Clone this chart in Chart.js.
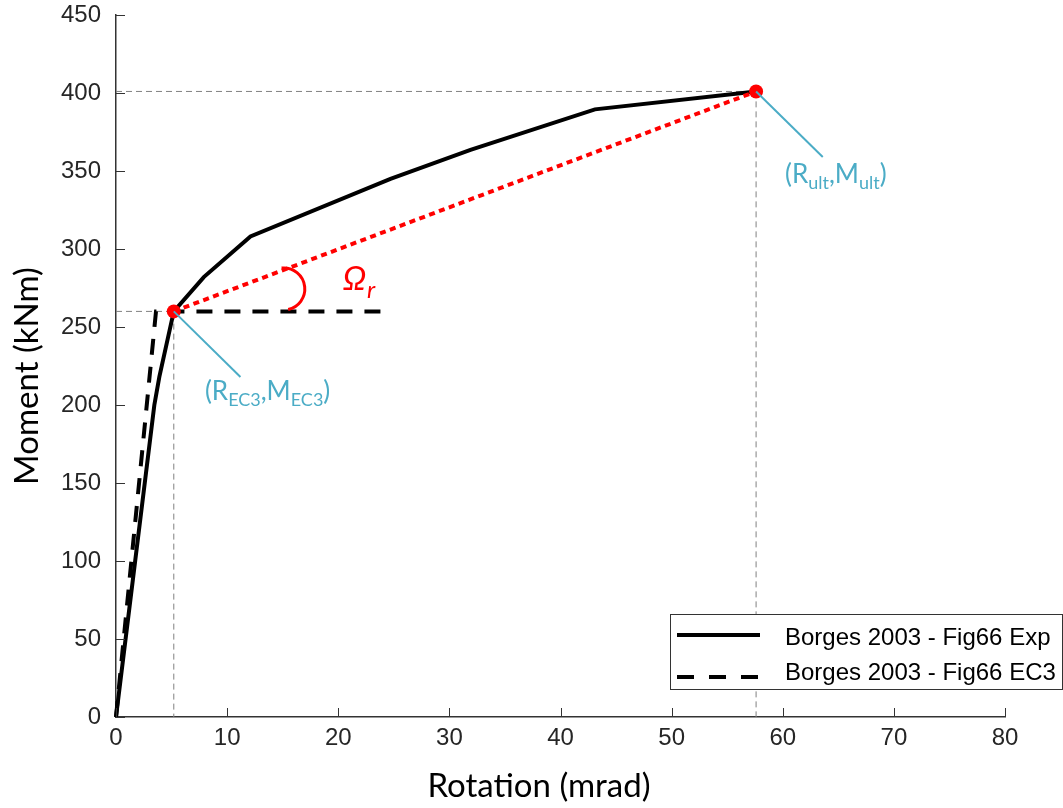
<!DOCTYPE html>
<html lang="en">
<head>
  <meta charset="UTF-8" />
  <title>Moment - Rotation</title>
  <script src="https://cdn.jsdelivr.net/npm/chart.js"></script>
  <style>
    body { margin: 0; background: #fff; }
    canvas { display: block; }
  </style>
</head>
<body>
  <canvas id="mrChart" width="1063" height="808"></canvas>

  <script>
    // Experimental curve (Borges 2003, Fig 66)
    const rotExp = [0, 3.45, 3.9, 5.2, 7.9, 12.1, 24.7, 31.9, 43.1, 57.6];
    const momExp = [0, 200, 218, 260, 282, 308, 345, 363.5, 389.5, 401];

    // EC3 bilinear curve
    const rotEC3 = [0, 3.6, 24];
    const momEC3 = [0, 260, 260];

    // key points
    const rEC3 = 5.2, mEC3 = 260;
    const rUlt = 57.6, mUlt = 401;

    // axis ticks
    const xTicks = [0, 10, 20, 30, 40, 50, 60, 70, 80];
    const yTicks = [0, 50, 100, 150, 200, 250, 300, 350, 400, 450];

    // annotation anchors (data units)
    const leaderEC3 = [11.2, 218];
    const leaderUlt = [63.6, 359];
    const labelEC3 = [8.0, 203];
    const labelUlt = [60.2, 342];
    const omegaAt = [20.4, 274];
    const arcCentre = [15.1, 274.4];

    const pts = (xs, ys) => xs.map((x, i) => ({ x: x, y: ys[i] }));

    const CYAN = '#4BACC6';
    const AXIS = '#333333';

    // rich text: [text, isSub]
    function drawRich(ctx, x, y, parts, size, subSize) {
      let cx = x;
      parts.forEach(([t, sub]) => {
        ctx.font = (sub ? subSize : size) + 'px Lato';
        ctx.fillText(t, cx, sub ? y + size * 0.2 : y);
        cx += ctx.measureText(t).width;
      });
    }

    const decor = {
      id: 'decor',
      afterDraw(chart) {
        const ctx = chart.ctx;
        const sx = chart.scales.x, sy = chart.scales.y;
        const a = chart.chartArea;
        ctx.save();

        // inward tick marks
        ctx.strokeStyle = AXIS;
        ctx.lineWidth = 1;
        xTicks.forEach(v => {
          const px = Math.round(sx.getPixelForValue(v)) + 0.5;
          ctx.beginPath();
          ctx.moveTo(px, a.bottom);
          ctx.lineTo(px, a.bottom - 9);
          ctx.stroke();
        });
        yTicks.forEach(v => {
          const py = Math.round(sy.getPixelForValue(v)) + 0.5;
          ctx.beginPath();
          ctx.moveTo(a.left, py);
          ctx.lineTo(a.left + 9, py);
          ctx.stroke();
        });

        // axis titles
        ctx.fillStyle = '#000';
        ctx.font = '33px Lato';
        ctx.textAlign = 'center';
        ctx.textBaseline = 'middle';
        ctx.fillText('Rotation (mrad)', 539, 786);
        ctx.save();
        ctx.translate(27, 376);
        ctx.rotate(-Math.PI / 2);
        ctx.fillText('Moment (kNm)', 0, 0);
        ctx.restore();

        // angle arc
        ctx.strokeStyle = '#ff0000';
        ctx.lineWidth = 3;
        ctx.beginPath();
        ctx.arc(sx.getPixelForValue(arcCentre[0]), sy.getPixelForValue(arcCentre[1]), 21,
                -96 * Math.PI / 180, 78 * Math.PI / 180);
        ctx.stroke();

        // Omega_r label
        ctx.fillStyle = '#ff0000';
        ctx.textBaseline = 'alphabetic';
        ctx.textAlign = 'left';
        const ox = sx.getPixelForValue(omegaAt[0]), oy = sy.getPixelForValue(omegaAt[1]);
        ctx.font = 'italic 33px Lato';
        ctx.fillText('Ω', ox, oy);
        const ow = ctx.measureText('Ω').width;
        ctx.font = 'italic 24px Lato';
        ctx.fillText('r', ox + ow + 1, oy + 8);

        // point labels
        ctx.fillStyle = CYAN;
        drawRich(ctx, sx.getPixelForValue(labelEC3[0]), sy.getPixelForValue(labelEC3[1]),
          [['(R', 0], ['EC3', 1], [',M', 0], ['EC3', 1], [')', 0]], 26, 18);
        drawRich(ctx, sx.getPixelForValue(labelUlt[0]), sy.getPixelForValue(labelUlt[1]),
          [['(R', 0], ['ult', 1], [',M', 0], ['ult', 1], [')', 0]], 26, 18);

        // legend box
        ctx.fillStyle = '#fff';
        ctx.fillRect(670.5, 614.5, 392, 75);
        ctx.strokeStyle = AXIS;
        ctx.lineWidth = 1;
        ctx.strokeRect(670.5, 614.5, 392, 75);
        ctx.strokeStyle = '#000';
        ctx.lineWidth = 4;
        ctx.beginPath();
        ctx.moveTo(677, 635);
        ctx.lineTo(760, 635);
        ctx.stroke();
        ctx.setLineDash([17, 15]);
        ctx.beginPath();
        ctx.moveTo(677, 677);
        ctx.lineTo(760, 677);
        ctx.stroke();
        ctx.setLineDash([]);
        ctx.fillStyle = '#000';
        ctx.font = '24px "Liberation Sans", Arial';
        ctx.fillText('Borges 2003 - Fig66 Exp', 785, 645);
        ctx.fillText('Borges 2003 - Fig66 EC3', 785, 680);

        ctx.restore();
      }
    };

    const refStyle = {
      borderColor: '#808080', borderWidth: 1, borderDash: [6, 4],
      pointRadius: 0, order: 6, clip: false
    };

    new Chart(document.getElementById('mrChart'), {
      type: 'line',
      data: {
        datasets: [
          { ...refStyle, data: pts([0, rEC3, rEC3], [mEC3, mEC3, 0]) },
          { ...refStyle, data: pts([0, rUlt, rUlt], [mUlt, mUlt, 0]) },
          {
            label: 'Borges 2003 - Fig66 EC3',
            data: pts(rotEC3, momEC3),
            borderColor: '#000', borderWidth: 4, borderDash: [16, 12],
            pointRadius: 0, order: 5, clip: false
          },
          {
            label: 'Borges 2003 - Fig66 Exp',
            data: pts(rotExp, momExp),
            borderColor: '#000', borderWidth: 4,
            pointRadius: 0, order: 4, clip: false
          },
          {
            data: pts([rEC3, rUlt], [mEC3, mUlt]),
            borderColor: '#ff0000', borderWidth: 4, borderDash: [6, 4.5],
            pointRadius: 0, order: 3, clip: false
          },
          {
            data: pts([rEC3, rUlt], [mEC3, mUlt]),
            showLine: false, pointRadius: 7, pointBorderWidth: 0,
            pointBackgroundColor: '#ff0000', order: 2, clip: false
          },
          {
            data: pts([rEC3, leaderEC3[0]], [mEC3, leaderEC3[1]]),
            borderColor: CYAN, borderWidth: 2, pointRadius: 0, order: 1, clip: false
          },
          {
            data: pts([rUlt, leaderUlt[0]], [mUlt, leaderUlt[1]]),
            borderColor: CYAN, borderWidth: 2, pointRadius: 0, order: 1, clip: false
          }
        ]
      },
      options: {
        responsive: false,
        animation: false,
        layout: { padding: 0 },
        plugins: { legend: { display: false }, tooltip: { enabled: false } },
        scales: {
          x: {
            type: 'linear', min: 0, max: 80,
            afterFit: s => { s.height = 91; s.paddingLeft = 0; s.paddingRight = 58; },
            afterBuildTicks: s => { s.ticks = xTicks.map(v => ({ value: v })); },
            ticks: { color: '#262626', font: { family: '"Liberation Sans", Arial', size: 24 }, padding: 7, maxRotation: 0 },
            grid: { drawOnChartArea: false, drawTicks: false },
            border: { color: AXIS, width: 1.5 }
          },
          y: {
            min: 0, max: 450,
            afterFit: s => { s.width = 116; s.paddingTop = 15; s.paddingBottom = 0; },
            afterBuildTicks: s => { s.ticks = yTicks.map(v => ({ value: v })); },
            ticks: { color: '#262626', font: { family: '"Liberation Sans", Arial', size: 24 }, padding: 15 },
            grid: { drawOnChartArea: false, drawTicks: false },
            border: { color: AXIS, width: 1.5 }
          }
        }
      },
      plugins: [decor]
    });
  </script>
</body>
</html>
